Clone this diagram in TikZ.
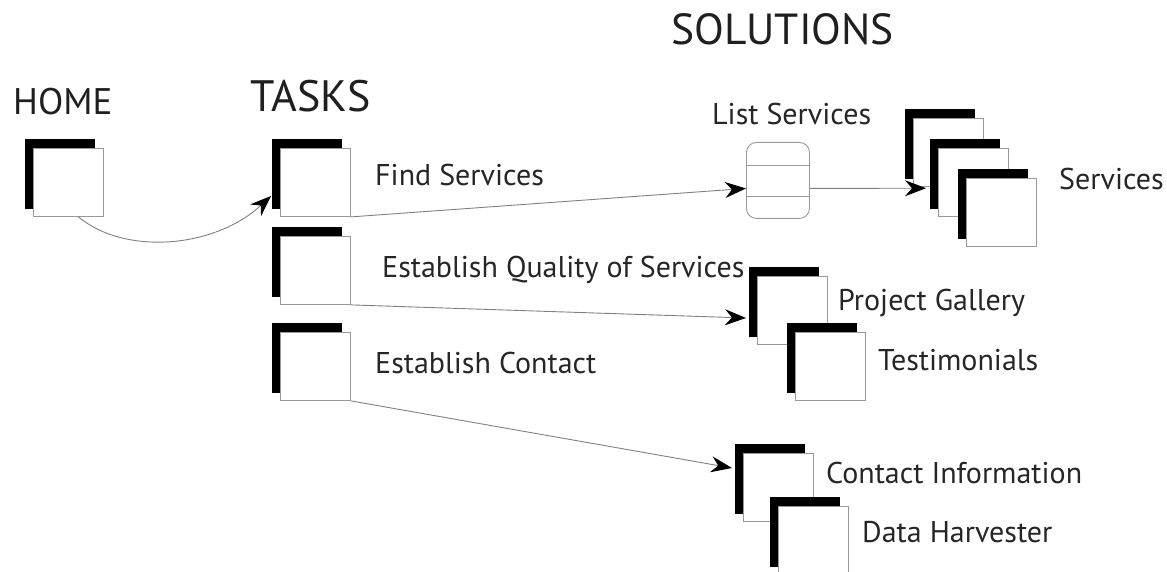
\documentclass[tikz,border=0pt]{standalone}
\usepackage{fontspec}
\setmainfont{PT Sans}
\usetikzlibrary{arrows.meta,calc}

\tikzset{
  backsq/.style={fill=black, draw=none, minimum width=70pt, minimum height=70pt,
                 inner sep=0pt, anchor=north west},
  frontsq/.style={fill=white, draw=black!40, line width=0.9pt, minimum width=70pt,
                  minimum height=68pt, inner sep=0pt, anchor=north west},
  dbbox/.style={draw=black!40, line width=0.9pt, rounded corners=10pt, minimum width=63pt,
                minimum height=76pt, inner sep=0pt, anchor=north west},
  link/.style={draw=black!50, line width=0.9pt,
               -{Stealth[length=21pt, width=16pt, inset=7pt, color=black]}},
  title/.style={anchor=base west, inner sep=0pt, text=black!88},
  lbl/.style={anchor=base west, inner sep=0pt, text=black!85, font=\fontsize{30}{32}\selectfont},
}

% page icon: black back sheet with a white front sheet offset down-right
\newcommand{\pageicon}[3]{%
  \node[backsq] (#1-b) at (#2,#3) {};
  \node[frontsq] (#1) at ({#2+8},{#3+9}) {};
}

\begin{document}
\begin{tikzpicture}[x=1pt, y=-1pt]
\useasboundingbox (0,0) rectangle (1167,572);

% headings
\node[title, font=\fontsize{37}{40}\selectfont] (hHome) at (13,115) {HOME};
\node[title, font=\fontsize{44}{48}\selectfont] (hTasks) at (250,112) {TASKS};
\node[title, font=\fontsize{43.5}{46}\selectfont] (hSol) at (671,45) {SOLUTIONS};

% home and task pages
\pageicon{home}{25}{139}
\pageicon{fs}{272}{139}
\pageicon{eq}{272}{227}
\pageicon{ec}{272}{323}

\node[lbl] (tFs) at (375,186) {Find Services};
\node[lbl] (tEq) at (382,277) {Establish Quality of Services};
\node[lbl] (tEc) at (375,373) {Establish Contact};

% list services store
\node[dbbox] (ls) at (746,142) {};
\draw[draw=black!40, line width=0.9pt] ($(ls.north west)+(0,23)$) -- ($(ls.north east)+(0,23)$);
\draw[draw=black!40, line width=0.9pt] ($(ls.south west)+(0,-22)$) -- ($(ls.south east)+(0,-22)$);
\node[lbl] (tLs) at (712,125) {List Services};

% services stack
\pageicon{sv1}{905}{109}
\pageicon{sv2}{930}{139}
\pageicon{sv3}{958}{169}
\node[lbl] (tSv) at (1059,190) {Services};

% quality pages
\pageicon{pg}{749}{267}
\pageicon{tm}{787}{323}
\node[lbl] (tPg) at (838,310) {Project Gallery};
\node[lbl] (tTm) at (878,370) {Testimonials};

% contact pages
\pageicon{ci}{735}{444}
\pageicon{dh}{770}{497}
\node[lbl] (tCi) at (826,483) {Contact Information};
\node[lbl] (tDh) at (862,542) {Data Harvester};

% connectors
\coordinate (fsIn) at ($(fs-b.north west)+(-1,57)$);
\draw[link] ($(home.south)+(10,0)$) .. controls +(47,39) and +(-56,52) .. (fsIn);
\draw[link] (fs.south east) -- ($(ls.west)+(0,8)$);
\draw[link] ($(ls.east)+(0,8)$) -- ($(sv2-b.west)+(-4,14)$);
\draw[link] (eq.south east) -- ($(pg-b.north west)+(-3,51)$);
\draw[link] (ec.south east) -- ($(ci-b.north west)+(-3,24)$);
\end{tikzpicture}
\end{document}
